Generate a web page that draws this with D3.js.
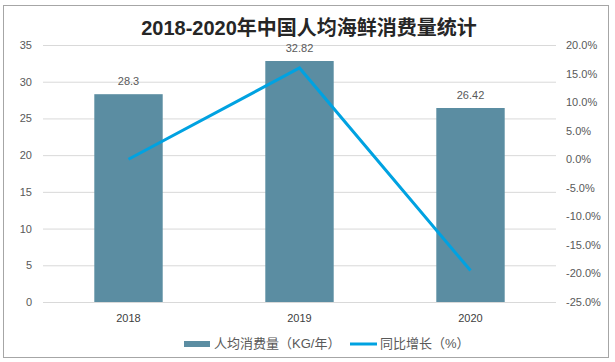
<html>
<head>
<meta charset="utf-8">
<script src="https://d3js.org/d3.v7.min.js"></script>
<style>
  body { margin: 0; background: #fff; }
  text { font-family: "Liberation Sans", "Noto Sans CJK SC", sans-serif; }
</style>
</head>
<body>
<svg width="615" height="362"></svg>
<script>
const years = ["2018", "2019", "2020"]
const consumption = [28.3, 32.82, 26.42]
const growth = [0, 15.97, -19.5]
const leftTicks = [0, 5, 10, 15, 20, 25, 30, 35]
const rightTicks = [20, 15, 10, 5, 0, -5, -10, -15, -20, -25]
const seriesNames = ["人均消费量（KG/年）", "同比增长（%）"]
const title = "2018-2020年中国人均海鲜消费量统计"

const svg = d3.select("svg")
const plotLeft = 43, plotRight = 556, plotTop = 45, plotBottom = 302

svg.append("rect")
  .attr("x", 3.5).attr("y", 5.5).attr("width", 605).attr("height", 352)
  .attr("fill", "#fff").attr("stroke", "#a6a6a6")

svg.append("text")
  .attr("x", 309).attr("y", 35)
  .attr("text-anchor", "middle")
  .style("font-size", "20px").style("font-weight", "bold")
  .attr("fill", "#262626")
  .text(title)

var x = d3.scaleBand().domain(years).range([plotLeft, plotRight]).paddingInner(0.6).paddingOuter(0.3)
var y = d3.scaleLinear().domain([0, 35]).range([plotBottom, plotTop])
var y2 = d3.scaleLinear().domain([-25, 20]).range([plotBottom, plotTop])

// grid
svg.append("g").selectAll("line").data(leftTicks).enter().append("line")
  .attr("x1", plotLeft).attr("x2", plotRight)
  .attr("y1", d => y(d) + 0.5).attr("y2", d => y(d) + 0.5)
  .attr("stroke", "#d9d9d9")

svg.append("g").selectAll("text").data(leftTicks).enter().append("text")
  .attr("x", 32).attr("y", d => y(d) + 4)
  .attr("text-anchor", "end")
  .style("font-size", "11px").attr("fill", "#595959")
  .text(d => d)

svg.append("g").selectAll("text").data(rightTicks).enter().append("text")
  .attr("x", 566).attr("y", d => y2(d) + 4)
  .style("font-size", "11px").attr("fill", "#595959")
  .text(d => d.toFixed(1) + "%")

// bars
svg.append("g").selectAll("rect").data(consumption).enter().append("rect")
  .attr("x", (d, i) => x(years[i]))
  .attr("width", x.bandwidth())
  .attr("y", d => y(d))
  .attr("height", d => y(0) - y(d))
  .attr("fill", "#5b8da2")

svg.append("g").selectAll("text").data(consumption).enter().append("text")
  .attr("x", (d, i) => x(years[i]) + x.bandwidth() / 2)
  .attr("y", d => y(d) - 9)
  .attr("text-anchor", "middle")
  .style("font-size", "11px").attr("fill", "#595959")
  .text(d => d)

svg.append("g").selectAll("text").data(years).enter().append("text")
  .attr("x", d => x(d) + x.bandwidth() / 2)
  .attr("y", 322)
  .attr("text-anchor", "middle")
  .style("font-size", "11px").attr("fill", "#404040")
  .text(d => d)

// growth line
var line = d3.line()
  .x((d, i) => x(years[i]) + x.bandwidth() / 2)
  .y(d => y2(d))
svg.append("path")
  .datum(growth)
  .attr("d", line)
  .attr("fill", "none")
  .attr("stroke", "#00a2e1")
  .attr("stroke-width", 3)

// legend
svg.append("rect").attr("x", 184).attr("y", 341).attr("width", 26).attr("height", 6).attr("fill", "#5b8da2")
svg.append("text").attr("x", 214).attr("y", 348)
  .style("font-size", "13px").attr("fill", "#595959").text(seriesNames[0])
svg.append("line").attr("x1", 350).attr("x2", 377).attr("y1", 344).attr("y2", 344)
  .attr("stroke", "#00a2e1").attr("stroke-width", 3)
svg.append("text").attr("x", 380).attr("y", 348)
  .style("font-size", "13px").attr("fill", "#595959").text(seriesNames[1])
</script>
</body>
</html>
